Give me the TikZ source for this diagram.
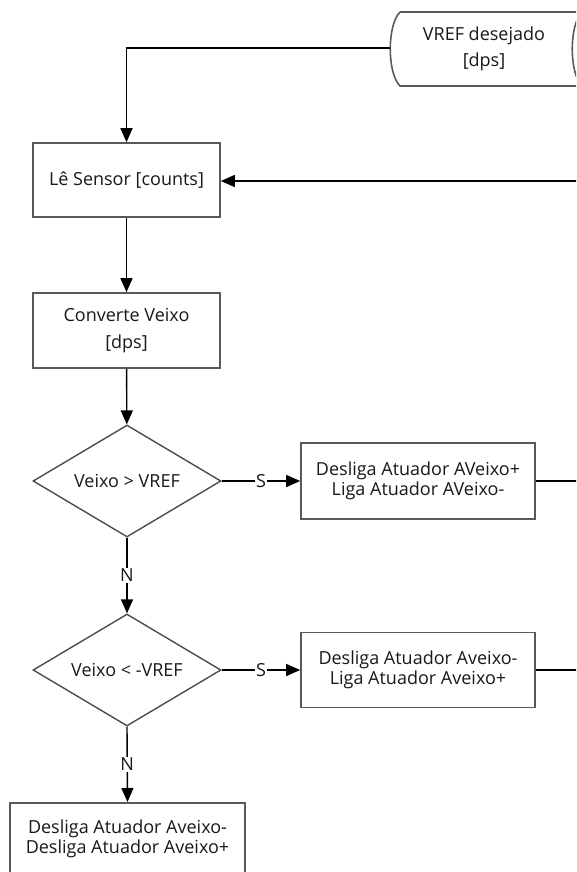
\documentclass[tikz,border=0pt]{standalone}
\usepackage{fontspec}
\setmainfont{Open Sans}
\usepackage{tikz}
\usetikzlibrary{shapes.geometric,arrows.meta}

\begin{document}
\begin{tikzpicture}[x=1pt, y=-1pt, font=\fontsize{18}{20}\selectfont,
  box/.style={draw=black!65, line width=1.6pt, fill=white, text=black!90, align=center, inner sep=0pt},
  decide/.style={diamond, aspect=2, draw=black!70, line width=1.4pt, text=black!90,
    minimum width=188pt, minimum height=112pt, inner sep=0pt},
  flow/.style={line width=1.4pt, -{Triangle[length=14pt,width=12pt]}},
  link/.style={line width=1.4pt},
  ans/.style={fill=white, inner sep=1pt, text=black!90}]
  \useasboundingbox (0,0) rectangle (576,872);
  \clip (0,0) rectangle (576,872);
  % stored data: VREF
  \draw[draw=black!65, line width=1.6pt, fill=white]
    (400,12) -- (582,12) .. controls (569,25) and (569,73) .. (582,86)
    -- (400,86) .. controls (387,73) and (387,25) .. (400,12);
  \node[text=black!90, align=center, font=\fontsize{18}{26}\selectfont] (vref) at (484,49) {VREF desejado\\{}[dps]};
  \coordinate (vrefL) at (390,48);
  % main column
  \node[box, minimum width=187pt, minimum height=74pt] (sensor) at (126.5,180) {Lê Sensor [counts]};
  \node[box, minimum width=187pt, minimum height=75pt, font=\fontsize{18}{27}\selectfont] (veixo) at (126.5,330.5) {Converte Veixo\\{}[dps]};
  \node[decide] (cmp1) at (127,481) {Veixo > VREF};
  \node[decide] (cmp2) at (127,670) {Veixo < -VREF};
  \node[box, anchor=north, minimum width=235pt, minimum height=72pt] (off) at (127.5,802) {Desliga Atuador Aveixo-\\Desliga Atuador Aveixo+};
  % actions
  \node[box, minimum width=234pt, minimum height=76pt] (neg) at (418,481) {Desliga Atuador AVeixo+\\Liga Atuador AVeixo-};
  \node[box, minimum width=234pt, minimum height=75pt] (pos) at (418,670) {Desliga Atuador Aveixo-\\Liga Atuador Aveixo+};
  % feedback ends (off the page)
  \coordinate (fbIn) at (590,181);
  \coordinate (fbA) at (590,481);
  \coordinate (fbB) at (590,670);
  % connectors
  \draw[flow] (vrefL) -| (sensor.north);
  \draw[flow] (fbIn) -- (fbIn -| sensor.east);
  \draw[flow] (sensor) -- (veixo);
  \draw[flow] (veixo) -- (cmp1);
  \draw[flow] (cmp1.east) -- node[ans] {S} (neg.west);
  \draw[flow] (cmp1.south) -- node[ans] {N} (cmp2.north);
  \draw[flow] (cmp2.east) -- node[ans] {S} (pos.west);
  \draw[flow] (cmp2.south) -- node[ans] {N} (off.north);
  \draw[link] (neg.east) -- (fbA);
  \draw[link] (pos.east) -- (fbB);
\end{tikzpicture}
\end{document}
